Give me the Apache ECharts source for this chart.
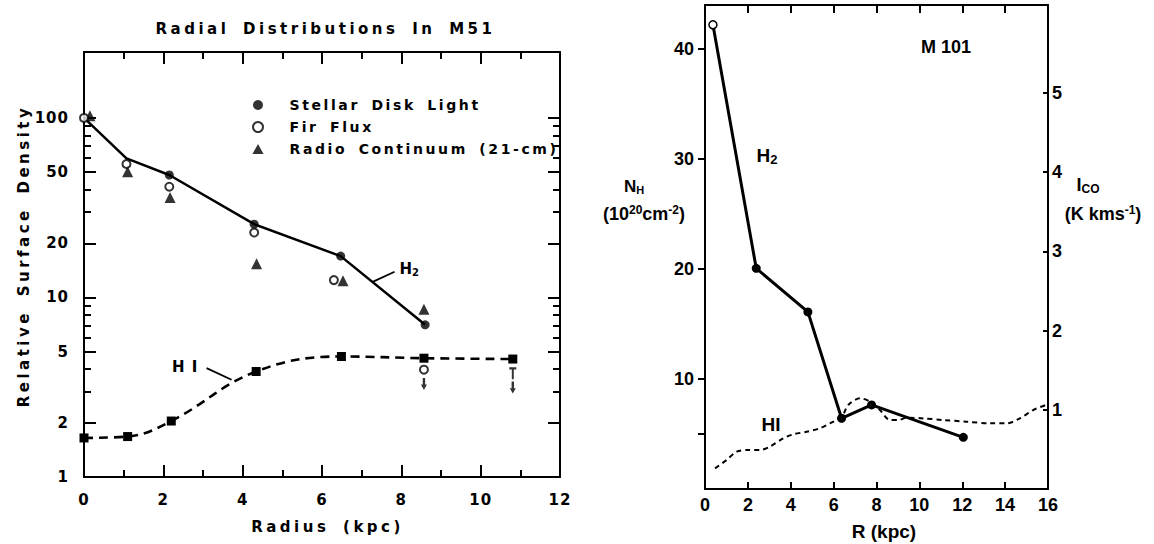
<!DOCTYPE html>
<html><head><meta charset="utf-8">
<script src="https://cdn.jsdelivr.net/npm/echarts@6/dist/echarts.min.js"></script>
<style>
html,body{margin:0;padding:0;background:#fff;}
#c{width:1154px;height:544px;}
#c text[style*="DejaVu"]{letter-spacing:3.5px;word-spacing:5px;}
#c text[style*="Verdana"]{letter-spacing:2.6px;word-spacing:4px;}
#c text[style*="Tahoma"]{letter-spacing:1px;word-spacing:0px;}
</style></head><body><div id="c"></div>
<script>
// ---------- M51 (left panel) ----------
const m51H2R = [0, 1.07, 2.15, 4.29, 6.47, 8.6];
const m51H2V = [100, 59.6, 48.1, 25.6, 17.0, 7.04];
const m51StarR = [2.15, 4.29, 6.47, 8.6];
const m51StarV = [48.1, 25.6, 17.0, 7.04];
const m51FirR = [0, 1.07, 2.15, 4.29, 6.3];
const m51FirV = [100, 55.4, 41.4, 23.0, 12.5];
const m51RadioR = [0.15, 1.1, 2.17, 4.35, 6.53, 8.57];
const m51RadioV = [103, 50.2, 36.1, 15.4, 12.4, 8.6];
const m51HIR = [0, 1.1, 2.2, 4.34, 6.49, 8.57, 10.81];
const m51HIV = [1.65, 1.68, 2.05, 3.87, 4.69, 4.59, 4.54];
const m51FirLimitR = [8.57];
const m51FirLimitV = [3.96];
const m51RadioLimitR = [10.81];
const m51RadioLimitV = [3.78];
const m51ArrowR = [8.57, 10.81];
const m51ArrowV = [3.3, 3.15];
const m51YTicks = [1, 2, 5, 10, 20, 50, 100];
const m51YMinor = [3, 4, 6, 7, 8, 9, 30, 40, 60, 70, 80, 90];
const m51H2Leader = [[7.29, 12.26], [7.83, 13.9]];
const m51HILeader = [[3.09, 4.04], [3.72, 3.48]];
const m51H2LabelPos = [8.21, 14.4];
const m51HILabelPos = [2.55, 4.08];

// ---------- M101 (right panel) ----------
const m101H2R = [0.37, 2.39, 4.8, 6.37, 7.77, 12.05];
const m101H2N = [42.2, 20.06, 16.1, 6.43, 7.64, 4.7];
const m101HIR = [0.47, 1.01, 1.48, 2.02, 2.57, 3.03, 3.65, 4.12, 4.74, 5.36, 5.83, 6.38, 6.68, 7.23, 7.7, 8.16, 8.63, 9.02, 9.41, 10.18, 11.12, 12.2, 13.29, 14.07, 14.69, 15.31, 15.9];
const m101HIN = [1.88, 2.64, 3.39, 3.55, 3.55, 3.85, 4.61, 4.97, 5.21, 5.52, 5.97, 6.57, 7.64, 8.25, 7.94, 7.18, 6.27, 6.27, 6.48, 6.42, 6.27, 6.12, 5.97, 5.97, 6.42, 7.18, 7.64];
const m101NTickMarks = [5, 10, 20, 30, 40];
const m101NTickLabels = [10, 20, 30, 40];
const m101ICOTicks = [1, 2, 3, 4, 5];
const m101H2LabelPos = [2.89, 30.3];
const m101HILabelPos = [3.08, 5.9];

const LF = 'DejaVu Sans';
const LF_LEGEND = 'DejaVu Sans, Verdana';
const LF_TIGHT = 'DejaVu Sans, Tahoma';
const RF = 'Liberation Sans';
const K = '#000';
const pairs = (xs, ys) => xs.map((x, i) => [x, ys[i]]);

const chart = echarts.init(document.getElementById('c'), null, {renderer: 'svg'});

const lineW = {color: K, width: 2};
const leftLabel = {color: K, fontFamily: LF_TIGHT, fontWeight: 'bold', fontSize: 15};
const rightLabel = {color: K, fontFamily: RF, fontWeight: 'bold', fontSize: 18};

function m51Y(pos, ticks, len, showLine, showLabel) {
  return {
    type: 'log', logBase: 10, gridIndex: 0, position: pos, min: 1, max: 233,
    axisLine: {show: showLine, onZero: false, lineStyle: lineW},
    axisTick: {show: true, inside: true, length: len, customValues: ticks, lineStyle: lineW},
    axisLabel: Object.assign({show: showLabel, customValues: ticks, margin: 15, formatter: v => String(v)}, leftLabel),
    splitLine: {show: false}, minorTick: {show: false}, minorSplitLine: {show: false}
  };
}
function m51X(pos, showLabel) {
  return {
    type: 'value', gridIndex: 0, position: pos, min: 0, max: 12, interval: 2,
    axisLine: {show: true, onZero: false, lineStyle: lineW},
    axisTick: {show: true, inside: true, length: 12, lineStyle: lineW},
    minorTick: {show: true, splitNumber: 2, length: 7, lineStyle: lineW},
    axisLabel: Object.assign({show: showLabel, margin: 15, showMinLabel: true, showMaxLabel: true}, leftLabel),
    splitLine: {show: false}, minorSplitLine: {show: false}
  };
}
function m101X(pos, showLabel, len) {
  return {
    type: 'value', gridIndex: 1, position: pos, min: 0, max: 16, interval: 2,
    axisLine: {show: true, onZero: false, lineStyle: lineW},
    axisTick: {show: true, inside: true, length: len, lineStyle: lineW},
    axisLabel: Object.assign({show: showLabel, margin: 7, showMinLabel: true, showMaxLabel: true}, rightLabel),
    splitLine: {show: false}
  };
}

const subRich = (fam, big, small) => ({
  b: {fontFamily: fam, fontWeight: 'bold', fontSize: big, lineHeight: big + 2, fill: K},
  s: {fontFamily: fam, fontWeight: 'bold', fontSize: small, lineHeight: small - 2, verticalAlign: 'bottom', fill: K},
  p: {fontFamily: fam, fontWeight: 'bold', fontSize: small, lineHeight: small - 2, verticalAlign: 'top', fill: K}
});

function leaderSeries(xi, yi, pts) {
  return {type: 'line', xAxisIndex: xi, yAxisIndex: yi, data: pts, symbol: 'none',
    lineStyle: {color: K, width: 1.8}, silent: true, z: 6};
}

const gtext = (x, y, text, font, extra) => Object.assign({
  type: 'text', x: x, y: y, silent: true, z: 100,
  style: {text: text, font: font, fill: K, textAlign: 'center', align: 'center', textVerticalAlign: 'middle', verticalAlign: 'middle'}
}, extra || {});
const grich = (x, y, text, rich) => ({
  type: 'text', x: x, y: y, silent: true, z: 100,
  style: {text: text, rich: rich, fill: K, textAlign: 'center', align: 'center', textVerticalAlign: 'middle', verticalAlign: 'middle'}
});

const option = {
  animation: false,
  backgroundColor: '#fff',
  grid: [
    {left: 84, top: 52, right: 594, bottom: 67, containLabel: false, outerBoundsMode: 'none'},
    {left: 705, top: 5, right: 106, bottom: 55, containLabel: false, outerBoundsMode: 'none'}
  ],
  legend: {
    orient: 'vertical', left: 247, top: 93, itemWidth: 53, itemHeight: 10, itemGap: 8,
    selectedMode: false, symbolKeepAspect: true,
    data: [
      {name: 'Stellar Disk Light'},
      {name: 'Fir Flux'},
      {name: 'Radio Continuum (21-cm)', icon: 'path://M5,0 L10,9 L0,9 Z'}
    ],
    textStyle: {color: K, fontFamily: LF_LEGEND, fontWeight: 'bold', fontSize: 14}
  },
  xAxis: [m51X('bottom', true), m51X('top', false), m101X('bottom', true, 7), m101X('top', false, 8)],
  yAxis: [
    m51Y('left', m51YTicks, 12, true, true),
    m51Y('left', m51YMinor, 7, false, false),
    m51Y('right', m51YTicks, 12, true, false),
    m51Y('right', m51YMinor, 7, false, false),
    {
      type: 'value', gridIndex: 1, position: 'left', min: 0, max: 44,
      axisLine: {show: true, onZero: false, lineStyle: lineW},
      axisTick: {show: true, inside: false, length: 7, customValues: m101NTickMarks, lineStyle: lineW},
      axisLabel: Object.assign({show: true, customValues: m101NTickLabels, margin: 11}, rightLabel),
      splitLine: {show: false}
    },
    {
      type: 'value', gridIndex: 1, position: 'right', min: 0, max: 6.11,
      axisLine: {show: true, onZero: false, lineStyle: lineW},
      axisTick: {show: true, inside: true, length: 5, customValues: m101ICOTicks, lineStyle: lineW},
      axisLabel: Object.assign({show: true, customValues: m101ICOTicks, margin: 4}, rightLabel),
      splitLine: {show: false}
    }
  ],
  series: [
    {name: 'H2 (M51)', type: 'line', xAxisIndex: 0, yAxisIndex: 0, data: pairs(m51H2R, m51H2V),
      symbol: 'none', lineStyle: {color: K, width: 2.5}, z: 2, silent: true},
    {name: 'HI (M51)', type: 'line', xAxisIndex: 0, yAxisIndex: 0, data: pairs(m51HIR, m51HIV),
      smooth: 0.4, symbol: 'rect', symbolSize: 9, itemStyle: {color: K},
      lineStyle: {color: K, width: 2.6, type: [9, 6]}, z: 3, silent: true},
    {name: 'Stellar Disk Light', type: 'scatter', xAxisIndex: 0, yAxisIndex: 0, data: pairs(m51StarR, m51StarV),
      symbol: 'circle', symbolSize: 9, itemStyle: {color: K}, z: 4, silent: true},
    {name: 'Fir Flux', type: 'scatter', xAxisIndex: 0, yAxisIndex: 0, data: pairs(m51FirR, m51FirV),
      symbol: 'circle', symbolSize: 8, itemStyle: {color: '#fff', borderColor: K, borderWidth: 2}, z: 5, silent: true},
    {name: 'Radio Continuum (21-cm)', type: 'scatter', xAxisIndex: 0, yAxisIndex: 0, data: pairs(m51RadioR, m51RadioV),
      symbol: 'triangle', symbolSize: 11, itemStyle: {color: K}, z: 4, silent: true},
    {name: 'Fir Flux limit', type: 'scatter', xAxisIndex: 0, yAxisIndex: 0, data: pairs(m51FirLimitR, m51FirLimitV),
      symbol: 'circle', symbolSize: 8, itemStyle: {color: '#fff', borderColor: K, borderWidth: 2}, z: 5, silent: true},
    {name: 'Radio limit', type: 'scatter', xAxisIndex: 0, yAxisIndex: 0, data: pairs(m51RadioLimitR, m51RadioLimitV),
      symbol: 'path://M0,0 H10 V2.5 H6.4 V14 H3.6 V2.5 H0 Z', symbolSize: [7, 12], itemStyle: {color: K}, z: 5, silent: true},
    {name: 'limit arrows', type: 'scatter', xAxisIndex: 0, yAxisIndex: 0, data: pairs(m51ArrowR, m51ArrowV),
      symbol: 'path://M3,0 H7 V10 H10 L5,18 L0,10 H3 Z', symbolSize: [6, 12], itemStyle: {color: K}, z: 5, silent: true},
    leaderSeries(0, 0, m51H2Leader),
    leaderSeries(0, 0, m51HILeader),

    {name: 'H2 (M101)', type: 'line', xAxisIndex: 2, yAxisIndex: 4,
      data: pairs(m101H2R, m101H2N).map((p, i) => i === 0
        ? {value: p, symbolSize: 8, itemStyle: {color: '#fff', borderColor: K, borderWidth: 1.5}}
        : {value: p}),
      symbol: 'circle', symbolSize: 9, itemStyle: {color: K},
      lineStyle: {color: K, width: 3}, z: 4, silent: true},
    {name: 'HI (M101)', type: 'line', xAxisIndex: 2, yAxisIndex: 4, data: pairs(m101HIR, m101HIN),
      smooth: 0.3, symbol: 'none', lineStyle: {color: K, width: 2, type: [5, 4]}, z: 3, silent: true}
  ]
};
chart.setOption(option);

// Curve labels anchored in data space through the chart's own scales
const px = (xi, yi, p) => chart.convertToPixel({xAxisIndex: xi, yAxisIndex: yi}, p);
const pH2L = px(0, 0, m51H2LabelPos);
const pHIL = px(0, 0, m51HILabelPos);
const pH2R = px(2, 4, m101H2LabelPos);
const pHIR = px(2, 4, m101HILabelPos);

chart.setOption({
  graphic: [
    gtext(325.5, 28.5, 'Radial Distributions In M51', 'bold 15px "DejaVu Sans"'),
    gtext(24, 256, 'Relative Surface Density', 'bold 15px "DejaVu Sans"', {rotation: Math.PI / 2}),
    gtext(327.5, 527, 'Radius (kpc)', 'bold 15px "DejaVu Sans"'),
    gtext(946, 47, 'M 101', 'bold 18px "Liberation Sans"'),
    gtext(884, 531, 'R (kpc)', 'bold 19px "Liberation Sans"'),
    grich(634, 186, '{b|N}{s|H}', subRich(RF, 17, 11)),
    grich(644, 214, '{b|(10}{p|20}{b|cm}{p|-2}{b|)}', subRich(RF, 18, 12)),
    grich(1088, 185, '{b|I}{s|CO}', subRich(RF, 18, 12)),
    grich(1103, 214, '{b|(K kms}{p|-1}{b|)}', subRich(RF, 18, 12)),
    grich(pH2L[0], pH2L[1], '{b|H}{s|2}', subRich(LF_TIGHT, 15, 10)),
    grich(pHIL[0], pHIL[1], '{b|H I}', subRich(LF_TIGHT, 15, 10)),
    grich(pH2R[0], pH2R[1], '{b|H}{s|2}', subRich(RF, 19, 13)),
    grich(pHIR[0], pHIR[1], '{b|HI}', subRich(RF, 19, 13))
  ]
});
</script></body></html>
